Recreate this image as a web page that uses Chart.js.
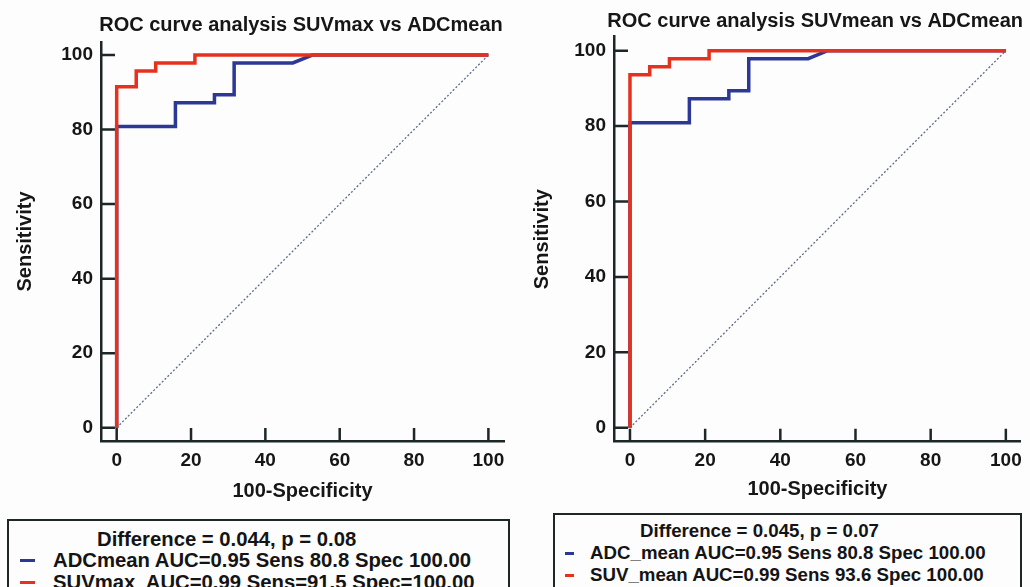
<!DOCTYPE html>
<html>
<head>
<meta charset="utf-8">
<script src="https://cdn.jsdelivr.net/npm/chart.js@4.4.1/dist/chart.umd.min.js"></script>
<style>
  html, body { margin: 0; padding: 0; background: #fdfdfe; }
  body { width: 1030px; height: 587px; overflow: hidden; position: relative; font-family: 'Liberation Sans', Arial, sans-serif; }
  canvas { position: absolute; top: 0; }
  #leftChart { left: 0; }
  #rightChart { left: 520px; }
  .legendBox { position: absolute; border: 2px solid #1f2626; height: 95px; box-sizing: border-box; font-weight: bold; color: #141414; }
  .legendBox .line { position: absolute; line-height: 22px; white-space: pre; }
  .legendBox .dash { position: absolute; height: 3px; }
  #leftLegend { left: 7px; top: 519px; width: 503px; font-size: 20.3px; }
  #rightLegend { left: 553px; top: 513px; width: 469px; font-size: 18.7px; }
</style>
</head>
<body>
<canvas id="leftChart" width="520" height="510"></canvas>
<canvas id="rightChart" width="510" height="510"></canvas>
<div class="legendBox" id="leftLegend"></div>
<div class="legendBox" id="rightLegend"></div>

<script>
// axis ticks (both panels)
const xTicks = [0, 20, 40, 60, 80, 100];
const yTicks = [0, 20, 40, 60, 80, 100];

// ADC mean ROC curve (same in both panels)
const adcX = [0, 0, 15.8, 15.8, 26.3, 26.3, 31.6, 31.6, 47.4, 52.6, 100];
const adcY = [0, 80.85, 80.85, 87.23, 87.23, 89.36, 89.36, 97.87, 97.87, 100, 100];

// SUVmax ROC curve (left panel)
const suvMaxX = [0, 0, 5.26, 5.26, 10.5, 10.5, 21.05, 21.05, 100];
const suvMaxY = [0, 91.49, 91.49, 95.74, 95.74, 97.87, 97.87, 100, 100];

// SUVmean ROC curve (right panel)
const suvMeanX = [0, 0, 5.26, 5.26, 10.5, 10.5, 21.05, 21.05, 100];
const suvMeanY = [0, 93.62, 93.62, 95.74, 95.74, 97.87, 97.87, 100, 100];

// reference diagonal
const diagX = [0, 100];
const diagY = [0, 100];

const leftTitle = 'ROC curve analysis SUVmax vs ADCmean';
const rightTitle = 'ROC curve analysis SUVmean vs ADCmean';
const leftLegendLines = ['Difference = 0.044, p = 0.08', 'ADCmean AUC=0.95 Sens 80.8 Spec 100.00', 'SUVmax  AUC=0.99 Sens=91.5 Spec=100.00'];
const rightLegendLines = ['Difference = 0.045, p = 0.07', 'ADC_mean AUC=0.95 Sens 80.8 Spec 100.00', 'SUV_mean AUC=0.99 Sens 93.6 Spec 100.00'];

const RED = '#e4321f';
const BLUE = '#2c3896';
const AXIS = '#1d2727';
const TEXT = '#161616';
const FONT = "'Liberation Sans', Arial, sans-serif";

function toPoints(xs, ys) {
    return xs.map((x, i) => ({x: x, y: ys[i]}));
}

// MedCalc style tick marks pointing into the plot
const inwardTicks = {
    id: 'inwardTicks',
    beforeDatasetsDraw(chart) {
        const {ctx, chartArea, scales: {x, y}} = chart;
        ctx.save();
        ctx.strokeStyle = AXIS;
        ctx.lineWidth = 2.5;
        ctx.beginPath();
        xTicks.forEach(v => {
            const px = x.getPixelForValue(v);
            ctx.moveTo(px, chartArea.bottom);
            ctx.lineTo(px, chartArea.bottom - 13);
        });
        yTicks.forEach(v => {
            const py = y.getPixelForValue(v);
            ctx.moveTo(chartArea.left, py);
            ctx.lineTo(chartArea.left + 14, py);
        });
        ctx.stroke();
        ctx.restore();
    }
};

const panelTitle = {
    id: 'panelTitle',
    afterDraw(chart, args, opts) {
        const {ctx, chartArea} = chart;
        ctx.save();
        ctx.font = 'bold 20px ' + FONT;
        ctx.fillStyle = TEXT;
        ctx.textAlign = 'center';
        ctx.textBaseline = 'middle';
        ctx.fillText(opts.text, (chartArea.left + chartArea.right) / 2 + opts.dx, opts.y);
        ctx.restore();
    }
};

function buildChart(id, title, redX, redY, geo) {
    const datasets = [
        {data: toPoints(redX, redY), borderColor: RED, borderWidth: 3.5},
        {data: toPoints(adcX, adcY), borderColor: BLUE, borderWidth: 3.5},
        {data: toPoints(diagX, diagY), borderColor: '#5d6b84', borderWidth: 1.3, borderDash: [2, 2]}
    ];
    datasets.forEach(d => {
        d.showLine = true;
        d.pointRadius = 0;
        d.fill = false;
        d.tension = 0;
        d.borderJoinStyle = 'miter';
    });

    const tickFont = {family: FONT, size: 19, weight: 'bold'};
    const titleFont = {family: FONT, size: 20, weight: 'bold'};

    return new Chart(document.getElementById(id), {
        type: 'scatter',
        data: {datasets: datasets},
        options: {
            responsive: false,
            animation: false,
            devicePixelRatio: 1,
            layout: {padding: geo.pad},
            plugins: {
                legend: {display: false},
                tooltip: {enabled: false},
                title: {display: false},
                panelTitle: {text: title, y: geo.titleY, dx: geo.titleDx}
            },
            scales: {
                x: {
                    type: 'linear',
                    min: geo.xMin,
                    max: geo.xMax,
                    afterBuildTicks: s => { s.ticks = xTicks.map(v => ({value: v})); },
                    afterFit: s => { s.height = geo.xH; },
                    grid: {display: false, drawTicks: false},
                    border: {display: true, color: AXIS, width: 2.5},
                    ticks: {padding: 8, color: TEXT, font: tickFont, maxRotation: 0, autoSkip: false},
                    title: {display: true, text: '100-Specificity', color: TEXT, font: titleFont, padding: {top: 0, bottom: 0}}
                },
                y: {
                    type: 'linear',
                    min: geo.yMin,
                    max: geo.yMax,
                    afterBuildTicks: s => { s.ticks = yTicks.map(v => ({value: v})); },
                    afterFit: s => { s.width = geo.yW; },
                    grid: {display: false, drawTicks: false},
                    border: {display: true, color: AXIS, width: 2.5},
                    ticks: {padding: 8, color: TEXT, font: tickFont, autoSkip: false},
                    title: {display: true, text: 'Sensitivity', color: TEXT, font: titleFont, padding: {top: geo.yTitlePad, bottom: 0}}
                }
            }
        },
        plugins: [inwardTicks, panelTitle]
    });
}

buildChart('leftChart', leftTitle, suvMaxX, suvMaxY, {
    pad: {top: 42, left: 5, right: 16, bottom: 7},
    xMin: -4.22, xMax: 104.2, yMin: -3.57, yMax: 103.5,
    xH: 62, yW: 96, yTitlePad: 8, titleY: 25, titleDx: -1.5
});

buildChart('rightChart', rightTitle, suvMeanX, suvMeanY, {
    pad: {top: 36.7, left: 4, right: 8.3, bottom: 9},
    xMin: -4.25, xMax: 104.0, yMin: -3.71, yMax: 103.7,
    xH: 59.3, yW: 90, yTitlePad: 6, titleY: 21, titleDx: -2.3
});

function renderLegend(id, lines, g) {
    const box = document.getElementById(id);
    let html = `<div class="line" style="left:${g.headLeft}px; top:${g.tops[0]}px">${lines[0]}</div>`;
    [BLUE, RED].forEach((color, i) => {
        const top = g.tops[i + 1];
        html += `<div class="dash" style="left:${g.dashLeft}px; width:${g.dashW}px; top:${top + 9.5}px; background:${color}"></div>`;
        html += `<div class="line" style="left:${g.textLeft}px; top:${top}px">${lines[i + 1]}</div>`;
    });
    box.innerHTML = html;
}

renderLegend('leftLegend', leftLegendLines, {headLeft: 88, tops: [7, 28, 50], dashLeft: 11, dashW: 15, textLeft: 44});
renderLegend('rightLegend', rightLegendLines, {headLeft: 85, tops: [5, 27, 49], dashLeft: 10, dashW: 9, textLeft: 35});
</script>
</body>
</html>
